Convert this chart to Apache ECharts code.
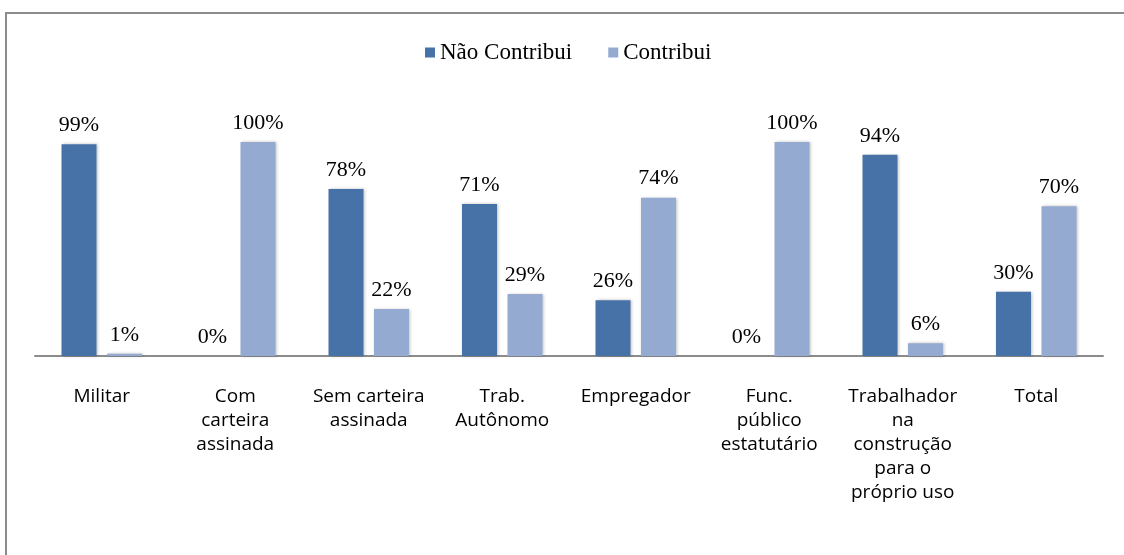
<!DOCTYPE html>
<html>
<head>
<meta charset="utf-8">
<script src="https://cdn.jsdelivr.net/npm/echarts@6/dist/echarts.min.js"></script>
<style>
  html, body { margin: 0; padding: 0; background: #fff; }
  #chart { width: 1124px; height: 555px; }
</style>
</head>
<body>
<div id="chart"></div>
<script>
// categorias e valores (%)
var categorias = [
  'Militar',
  'Com\ncarteira\nassinada',
  'Sem carteira\nassinada',
  'Trab.\nAutônomo',
  'Empregador',
  'Func.\npúblico\nestatutário',
  'Trabalhador\nna\nconstrução\npara o\npróprio uso',
  'Total'
];
var naoContribui = [99, 0, 78, 71, 26, 0, 94, 30];
var contribui = [1, 100, 22, 29, 74, 100, 6, 70];

var myChart = echarts.init(document.getElementById('chart'));

var labelStyle = {
  show: true,
  position: 'top',
  distance: 8,
  formatter: '{c}%',
  fontFamily: 'Liberation Serif',
  fontSize: 22,
  color: '#000'
};

var option = {
  animation: false,
  graphic: [
    {
      type: 'rect',
      shape: { x: 6, y: 13, width: 1300, height: 800 },
      style: { fill: 'none', stroke: '#8c8c8c', lineWidth: 2 },
      silent: true
    }
  ],
  legend: {
    top: 36,
    left: 420,
    icon: 'rect',
    itemWidth: 10,
    itemHeight: 10,
    itemGap: 36,
    textStyle: { fontFamily: 'Liberation Serif', fontSize: 23, color: '#000' },
    data: ['Não Contribui', 'Contribui']
  },
  grid: { left: 35, right: 21, top: 142, bottom: 199 },
  xAxis: {
    type: 'category',
    data: categorias,
    axisLine: { lineStyle: { color: '#8c8c8c', width: 2 } },
    axisTick: { show: false },
    axisLabel: {
      interval: 0,
      margin: 29,
      fontFamily: 'Open Sans',
      fontSize: 19,
      lineHeight: 24,
      color: '#000'
    }
  },
  yAxis: {
    type: 'value',
    min: 0,
    max: 100,
    show: false,
    splitLine: { show: false }
  },
  series: [
    {
      name: 'Não Contribui',
      type: 'bar',
      data: naoContribui,
      barWidth: 35,
      barGap: '30%',
      itemStyle: {
        color: '#4672a7',
        shadowColor: 'rgba(0,0,0,0.25)',
        shadowBlur: 3,
        shadowOffsetX: 1
      },
      label: labelStyle
    },
    {
      name: 'Contribui',
      type: 'bar',
      data: contribui,
      barWidth: 35,
      barGap: '30%',
      itemStyle: {
        color: '#95aad1',
        shadowColor: 'rgba(0,0,0,0.25)',
        shadowBlur: 3,
        shadowOffsetX: 1
      },
      label: labelStyle
    }
  ]
};

myChart.setOption(option);
</script>
</body>
</html>
